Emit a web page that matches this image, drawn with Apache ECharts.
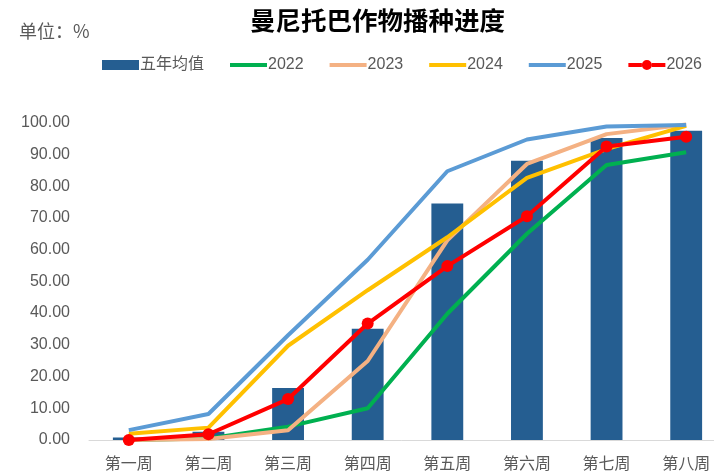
<!DOCTYPE html>
<html>
<head>
<meta charset="utf-8">
<script src="https://cdn.jsdelivr.net/npm/echarts@6/dist/echarts.min.js"></script>
<style>
html,body{margin:0;padding:0;background:#fff;}
#chart{width:714px;height:472px;}
</style>
</head>
<body>
<div id="chart"></div>
<script>
var categories = ['第一周','第二周','第三周','第四周','第五周','第六周','第七周','第八周'];
var avg5 = [0.8, 2.6, 16.4, 35.1, 74.5, 88.0, 95.2, 97.5];
var y2022 = [0, 0.5, 4.2, 10.0, 39.8, 65.0, 86.7, 90.7];
var y2023 = [0, 0.3, 3.1, 24.9, 62.9, 87.0, 96.4, 99.4];
var y2024 = [2.0, 3.9, 29.7, 47.2, 63.9, 82.6, 91.7, 99.0];
var y2025 = [3.1, 8.2, 33.0, 56.8, 84.7, 94.7, 98.8, 99.3];
var y2026 = [0, 1.8, 12.9, 36.7, 54.8, 70.5, 92.5, 95.6];
var yTicks = [0, 10, 20, 30, 40, 50, 60, 70, 80, 90, 100];

var chart = echarts.init(document.getElementById('chart'), null, {renderer: 'canvas'});
var txt = '#595959';
var fam = '"Liberation Sans", "Noto Sans CJK SC", sans-serif';
var lineIcon = 'path://M0,0L37,0L37,4L0,4Z';
var dotIcon = 'path://M0,3L13.5,3L13.5,7L0,7Z M23.5,3L37,3L37,7L23.5,7Z M13.5,5A5,5 0 1,1 23.5,5A5,5 0 1,1 13.5,5Z';
function lineSeries(name, data, color) {
  return {
    name: name, type: 'line', data: data, symbol: 'none', smooth: false,
    lineStyle: {color: color, width: 4}, itemStyle: {color: color}, z: 3
  };
}
chart.setOption({
  animation: false,
  backgroundColor: '#fff',
  title: [
    {text: '曼尼托巴作物播种进度', left: 250, top: 8, padding: 0,
     textStyle: {fontSize: 25.5, fontWeight: 'bold', color: '#000', fontFamily: '"Noto Sans CJK SC", sans-serif'}},
    {text: '单位：%', left: 19, top: 22, padding: 0,
     textStyle: {fontSize: 18, fontWeight: 'normal', color: txt, fontFamily: '"Noto Sans CJK SC", sans-serif'}}
  ],
  legend: {
    left: 102, top: 57, padding: 0, width: 640, itemWidth: 37, itemHeight: 10, itemGap: 26,
    textStyle: {fontSize: 16, color: txt, fontFamily: fam, padding: [0,0,0,-4]},
    data: [
      {name: '五年均值', icon: 'rect'},
      {name: '2022', icon: lineIcon},
      {name: '2023', icon: lineIcon},
      {name: '2024', icon: lineIcon},
      {name: '2025', icon: lineIcon},
      {name: '2026', icon: dotIcon}
    ]
  },
  grid: {left: 89, width: 637, top: 122.7, bottom: 32, containLabel: false, outerBoundsMode: 'none'},
  xAxis: {
    type: 'category', data: categories,
    axisLine: {lineStyle: {color: '#D9D9D9', width: 1}},
    axisTick: {show: false},
    axisLabel: {color: txt, fontSize: 16, margin: 15, fontFamily: '"Noto Sans CJK SC", sans-serif'}
  },
  yAxis: {
    type: 'value', min: yTicks[0], max: yTicks[yTicks.length-1], interval: 10,
    axisLine: {show: false}, axisTick: {show: false}, splitLine: {show: false},
    axisLabel: {color: txt, fontSize: 16, margin: 19, fontFamily: fam,
      formatter: function(v){ return v.toFixed(2); }}
  },
  series: [
    {name: '五年均值', type: 'bar', data: avg5, barWidth: '40%', itemStyle: {color: '#255E91'}, z: 2},
    lineSeries('2022', y2022, '#00B050'),
    lineSeries('2023', y2023, '#F4B183'),
    lineSeries('2024', y2024, '#FFC000'),
    lineSeries('2025', y2025, '#5B9BD5'),
    {name: '2026', type: 'line', data: y2026, symbol: 'circle', symbolSize: 12,
     lineStyle: {color: '#FF0000', width: 4}, itemStyle: {color: '#FF0000'}, z: 4}
  ]
});
</script>
</body>
</html>
